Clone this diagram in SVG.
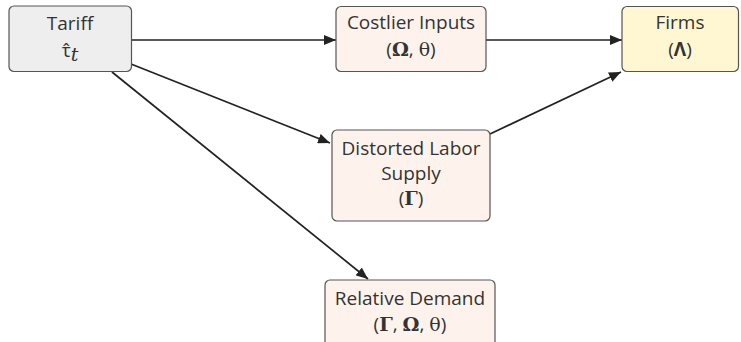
<svg xmlns="http://www.w3.org/2000/svg" width="741" height="342" viewBox="0 0 741 342">
  <defs>
    <marker id="arrow" viewBox="0 0 12 10" refX="12" refY="5" markerWidth="12" markerHeight="10" markerUnits="userSpaceOnUse" orient="auto">
      <path d="M0,0 L12,5 L0,10 z" fill="#222"/>
    </marker>
    <style>
      .box { stroke: #555; stroke-width: 1.2; }
      .grey { fill: #eeeeee; }
      .peach { fill: #fdf3ec; }
      .yellow { fill: #fff7d2; }
      .lbl { font-family: "Open Sans", "Noto Sans", sans-serif; font-size: 19px; fill: #333; text-anchor: middle; }
      .math { font-family: "DejaVu Serif", "Liberation Serif", serif; font-size: 19px; }
      .edge { stroke: #222; stroke-width: 1.7; fill: none; marker-end: url(#arrow); }
    </style>
  </defs>

  <g id="connectors">
    <line class="edge" x1="132" y1="40" x2="336" y2="40"/>
    <line class="edge" x1="486" y1="40" x2="622" y2="40"/>
    <line class="edge" x1="131" y1="64" x2="330" y2="143"/>
    <line class="edge" x1="112" y1="72" x2="368" y2="279"/>
    <line class="edge" x1="490" y1="134" x2="621" y2="72"/>
  </g>

  <g id="tariff">
    <rect class="box grey" x="9" y="6" width="122.5" height="65.5" rx="5"/>
    <text class="lbl" x="70" y="30">Tariff</text>
    <text class="lbl" x="70" y="57"><tspan font-family="Open Sans, sans-serif">τ̂</tspan><tspan class="math" font-style="italic" font-size="16" dy="4">t</tspan></text>
  </g>

  <g id="costlier-inputs">
    <rect class="box peach" x="336" y="6.5" width="150" height="65" rx="5"/>
    <text class="lbl" x="411" y="29">Costlier Inputs</text>
    <text class="lbl" x="411" y="56">(<tspan class="math" font-weight="bold">Ω</tspan>, <tspan class="math">θ</tspan>)</text>
  </g>

  <g id="firms">
    <rect class="box yellow" x="622" y="6.5" width="116.5" height="65" rx="5"/>
    <text class="lbl" x="680" y="29">Firms</text>
    <text class="lbl" x="680" y="56">(<tspan font-weight="bold">Λ</tspan>)</text>
  </g>

  <g id="distorted-labor-supply">
    <rect class="box peach" x="332" y="130" width="158" height="91" rx="5"/>
    <text class="lbl" x="411" y="155">Distorted Labor</text>
    <text class="lbl" x="411" y="180">Supply</text>
    <text class="lbl" x="411" y="205">(<tspan class="math" font-weight="bold">Γ</tspan>)</text>
  </g>

  <g id="relative-demand">
    <rect class="box peach" x="325" y="280" width="170" height="70" rx="5"/>
    <text class="lbl" x="410" y="305">Relative Demand</text>
    <text class="lbl" x="410" y="331">(<tspan class="math" font-weight="bold">Γ</tspan>, <tspan class="math" font-weight="bold">Ω</tspan>, <tspan class="math">θ</tspan>)</text>
  </g>
</svg>
